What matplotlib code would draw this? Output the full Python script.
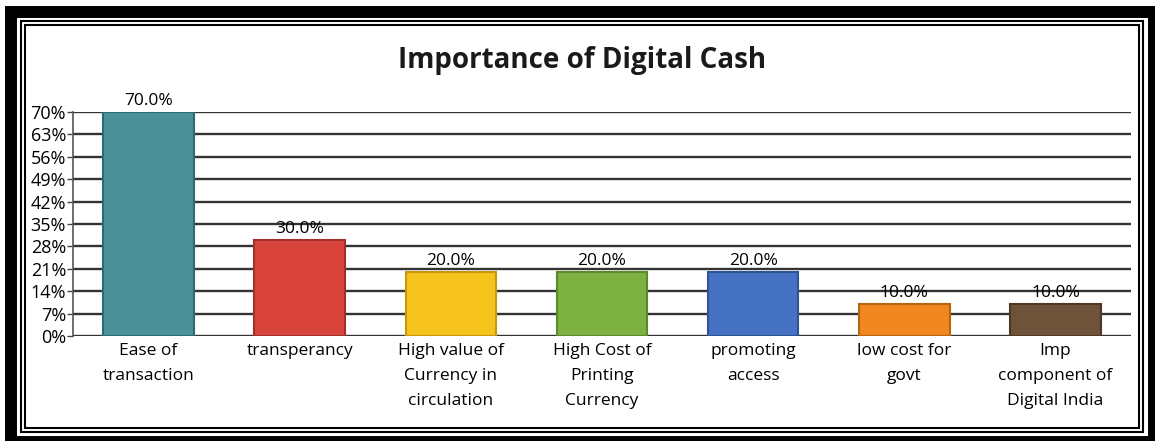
import matplotlib
matplotlib.use('Agg')
import matplotlib.pyplot as plt
from matplotlib.patches import Rectangle
from matplotlib.ticker import FixedLocator

categories = ['Ease of\ntransaction', 'transperancy', 'High value of\nCurrency in\ncirculation',
              'High Cost of\nPrinting\nCurrency', 'promoting\naccess', 'low cost for\ngovt',
              'Imp\ncomponent of\nDigital India']
values = [70.0, 30.0, 20.0, 20.0, 20.0, 10.0, 10.0]
colors = ['#4A9199', '#D8443B', '#F6C31C', '#7DB142', '#4672C4', '#F0871F', '#6E5239']
edges = ['#2F6A70', '#A3302A', '#C9970E', '#5A8A2C', '#2F5496', '#B8650F', '#4D3826']
yticks = [0, 7, 14, 21, 28, 35, 42, 49, 56, 63, 70]

plt.rcParams['font.family'] = ['Open Sans', 'DejaVu Sans']

W, H = 1155, 441
fig = plt.figure(figsize=(W / 100, H / 100), dpi=100)
ax = fig.add_axes([73 / W, 1 - 336 / H, (1131 - 73) / W, (336 - 112) / H])

x = range(len(categories))
ax.bar(x, values, width=0.6, color=colors, edgecolor=edges, linewidth=1.5, zorder=3)

ax.set_xlim(-0.5, len(categories) - 0.5)
ax.set_ylim(0, 70)
ax.yaxis.set_major_locator(FixedLocator(yticks))
ax.set_yticklabels([f'{t}%' for t in yticks], fontsize=13)
ax.set_xticks(list(x))
ax.set_xticklabels(categories, fontsize=12.5, linespacing=1.75, va='top')
ax.tick_params(axis='x', length=0, pad=5)
ax.tick_params(axis='y', length=4, width=1, direction='out', pad=1, color='#444444')

ax.grid(axis='y', color='#333333', linewidth=1.7, zorder=1)
for s in ['top', 'right', 'bottom']:
    ax.spines[s].set_visible(False)
ax.spines['left'].set_color('#555555')
ax.spines['left'].set_linewidth(1.2)

for i, v in enumerate(values):
    ax.text(i, v + 0.8, f'{v:.1f}%', ha='center', va='bottom', fontsize=12.5, zorder=4)

fig.text(582 / W, 1 - 68 / H, 'Importance of Digital Cash', ha='center', va='baseline',
         fontsize=20, fontweight='bold', color='#1a1a1a')

# frame: thick outer border, two thin inner lines
fig.patches.append(Rectangle((11 / W, -1 / H), 1143 / W, 430.5 / H, transform=fig.transFigure,
                             fill=False, edgecolor='black', linewidth=8.6))
fig.patches.append(Rectangle((21 / W, 9 / H), 1122 / W, 411 / H, transform=fig.transFigure,
                             fill=False, edgecolor='black', linewidth=1.5))
fig.patches.append(Rectangle((24.5 / W, 13 / H), 1114.5 / W, 403.5 / H, transform=fig.transFigure,
                             fill=False, edgecolor='black', linewidth=1.5))

fig.savefig('out.png', dpi=100)
